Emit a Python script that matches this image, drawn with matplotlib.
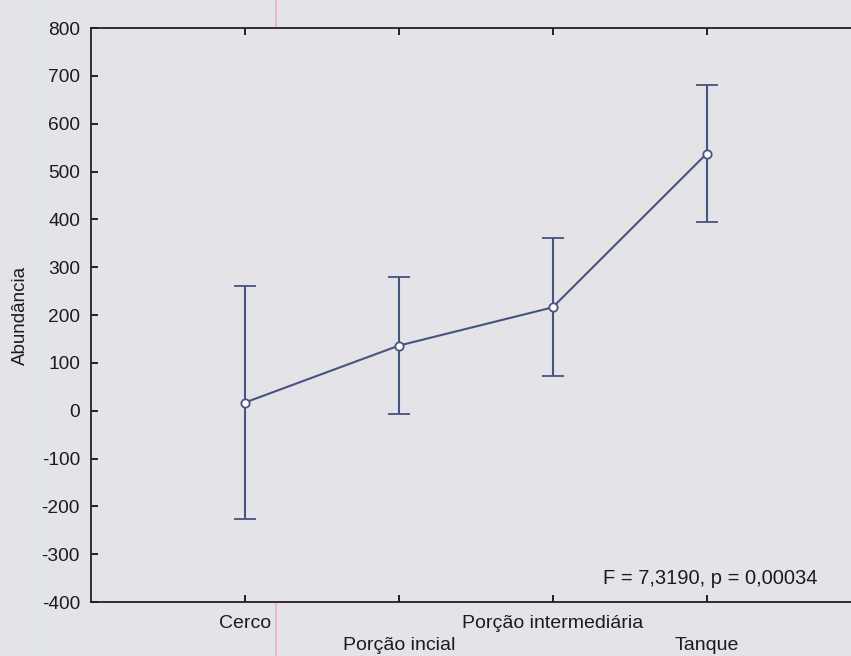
import matplotlib
matplotlib.use("Agg")
import matplotlib.pyplot as plt
from matplotlib.lines import Line2D

# Mean abundance per site with confidence interval half-width
sites = ["Cerco", "Porção incial", "Porção intermediária", "Tanque"]
means = [17, 136, 216, 537]
ci_half = [243, 143, 144, 143]
stat_text = "F = 7,3190, p = 0,00034"

BG = "#e4e4e8"
LINE = "#475381"
INK = "#1c1c1c"

plt.rcParams["font.family"] = ["Liberation Sans", "DejaVu Sans"]
plt.rcParams["axes.unicode_minus"] = False

fig = plt.figure(figsize=(8.51, 6.56), dpi=100, facecolor=BG)
ax = fig.add_axes([0.107, 0.0823, 0.904, 0.875])
ax.set_facecolor(BG)

x = list(range(1, len(sites) + 1))
ax.errorbar(x, means, yerr=ci_half, color=LINE, lw=1.5, elinewidth=1.5,
            capsize=8, capthick=1.5, marker="o", markersize=6,
            markerfacecolor="white", markeredgecolor=LINE, markeredgewidth=1.3)

ax.set_xlim(0, 5)
ax.set_ylim(-400, 800)
ax.set_yticks(range(-400, 801, 100))
ax.set_xticks(x)
# staggered category labels
labels = [s if i % 2 == 0 else "\n" + s for i, s in enumerate(sites)]
ax.set_xticklabels(labels, fontsize=14, linespacing=1.42, color=INK)
ax.tick_params(axis="y", labelsize=13.8, labelcolor=INK, direction="in",
               length=5, width=1.2, pad=8)
ax.tick_params(axis="x", direction="in", length=5, width=1.2, pad=9, top=True)

for s in ax.spines.values():
    s.set_linewidth(1.3)
    s.set_color("#222222")

ax.set_ylabel("Abundância", fontsize=13.5, labelpad=9, color=INK)
ax.text(4.72, -350, stat_text, fontsize=14.5, ha="right", va="center", color=INK)

# scanner artefacts: margin line and tinted strip
fig.add_artist(Line2D([276 / 851, 276 / 851], [0, 1], color="#e9b9c9", lw=1.5, zorder=0))
fig.add_artist(Line2D([38 / 851, 38 / 851], [0, 1], color="#dde5e6", lw=6, zorder=0))

fig.savefig("out.png", dpi=100, facecolor=BG)
